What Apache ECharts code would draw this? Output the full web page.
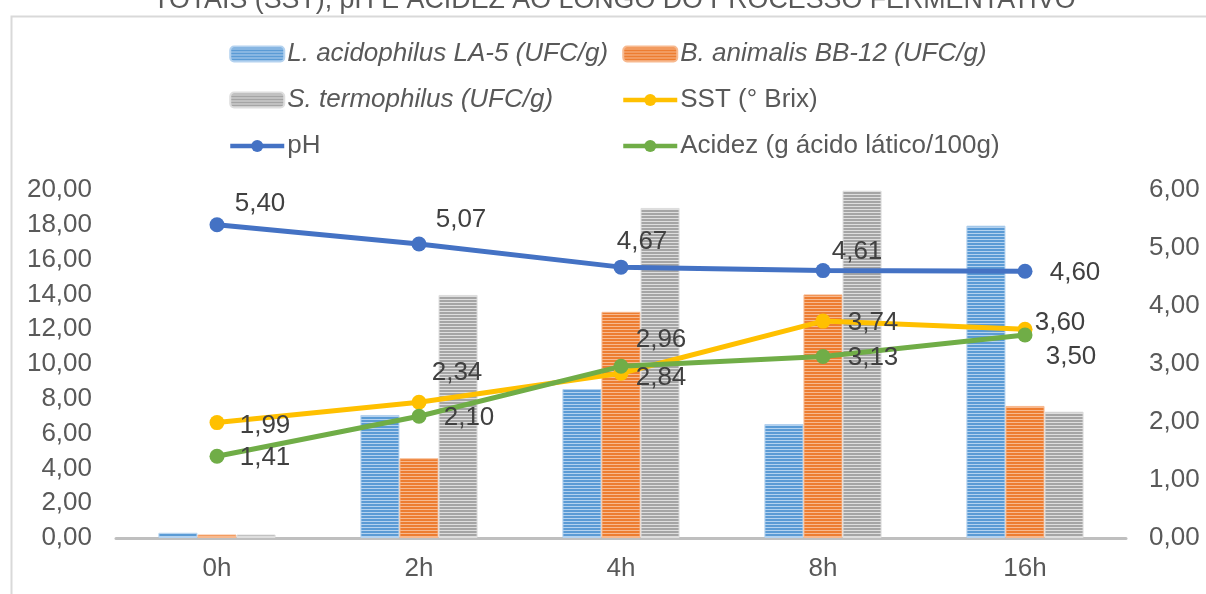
<!DOCTYPE html>
<html>
<head>
<meta charset="utf-8">
<script src="https://cdn.jsdelivr.net/npm/echarts@6/dist/echarts.min.js"></script>
<style>
  html, body { margin: 0; padding: 0; background: #ffffff; }
  #chart { width: 1206px; height: 594px; }
</style>
</head>
<body>
<div id="chart"></div>
<script>
// Sampling times
const categories = ['0h', '2h', '4h', '8h', '16h'];

// Microbial counts (UFC/g), left axis
const laAcidophilus = [0.30, 7.07, 8.56, 6.55, 17.95];
const bbAnimalis    = [0.20, 4.58, 13.00, 14.00, 7.59];
const sTermophilus  = [0.20, 13.97, 18.97, 19.96, 7.26];

// Physico-chemical parameters, right axis
const ph     = [5.40, 5.07, 4.67, 4.61, 4.60];
const sst    = [1.99, 2.34, 2.84, 3.74, 3.60];
const acidez = [1.41, 2.10, 2.96, 3.13, 3.50];

// Axis ticks
const leftTicks  = { min: 0, max: 20, interval: 2 };
const rightTicks = { min: 0, max: 6, interval: 1 };

// Label placement relative to each point (px)
const phLabelOffsets     = [[43, -21], [42, -24], [21, -25], [34, -19], [50, 2]];
const sstLabelOffsets    = [[48, 3], [38, -29], [40, 5], [50, 2], [35, -6]];
const acidezLabelOffsets = [[48, 2], [50, 2], [40, -26], [50, 1], [46, 22]];

const FONT = '"Liberation Sans", Arial, sans-serif';
const fmt = v => Number(v).toFixed(2).replace('.', ',');

// Horizontal-stripe fill used by the bars
function stripes(base, light) {
  const c = document.createElement('canvas');
  c.width = 4; c.height = 3;
  const g = c.getContext('2d');
  g.fillStyle = base;  g.fillRect(0, 0, 4, 2);
  g.fillStyle = light; g.fillRect(0, 2, 4, 1);
  return { image: c, repeat: 'repeat' };
}

const names = {
  la: 'L. acidophilus LA-5 (UFC/g)',
  bb: 'B. animalis BB-12 (UFC/g)',
  st: 'S. termophilus (UFC/g)',
  sst: 'SST (° Brix)',
  ph: 'pH',
  ac: 'Acidez (g ácido lático/100g)'
};
const italicNames = [names.la, names.bb, names.st];

function barSeries(name, values, base, light) {
  return {
    name, type: 'bar', yAxisIndex: 0, data: values,
    barGap: '0%', barCategoryGap: '42%',
    itemStyle: { color: stripes(base, light), borderColor: light, borderWidth: 1 }
  };
}

function lineSeries(name, values, offsets, color) {
  return {
    name, type: 'line', yAxisIndex: 1,
    symbol: 'circle', symbolSize: 15,
    lineStyle: { width: 5, color },
    itemStyle: { color },
    data: values.map((v, i) => ({ value: v, label: { offset: offsets[i] } })),
    label: {
      show: true, position: 'inside', formatter: p => fmt(p.value),
      fontFamily: FONT, fontSize: 26, color: '#404040'
    },
    z: 5
  };
}

const legendBase = {
  orient: 'vertical', top: 41, padding: 0, itemGap: 20,
  itemWidth: 54, itemHeight: 15,
  lineStyle: { width: 4.5 },
  textStyle: {
    fontFamily: FONT, fontSize: 26, color: '#595959', padding: [0, 0, 0, -2],
    rich: {
      i: { fontFamily: FONT, fontSize: 26, color: '#595959', fontStyle: 'italic' },
      n: { fontFamily: FONT, fontSize: 26, color: '#595959' }
    }
  },
  formatter: n => italicNames.includes(n) ? '{i|' + n + '}' : '{n|' + n + '}'
};

const chart = echarts.init(document.getElementById('chart'), null, { renderer: 'canvas' });
chart.setOption({
  animation: false,
  backgroundColor: '#ffffff',
  title: {
    text: 'TOTAIS (SST), pH E ACIDEZ AO LONGO DO PROCESSO FERMENTATIVO',
    left: 153, top: -13, padding: 0,
    textStyle: { fontFamily: FONT, fontSize: 26.8, fontWeight: 'normal', color: '#595959' }
  },
  graphic: [{
    type: 'rect', left: 9, top: 14, silent: true,
    shape: { width: 1300, height: 700 },
    style: { fill: 'none', stroke: '#d9d9d9', lineWidth: 2 }
  }],
  legend: [
    Object.assign({}, legendBase, { left: 228, data: [names.la, names.st, names.ph] }),
    Object.assign({}, legendBase, { left: 621, data: [names.bb, names.sst, names.ac] })
  ],
  grid: { left: 116, right: 80, top: 190, bottom: 56, containLabel: false },
  xAxis: {
    type: 'category', data: categories,
    axisLine: { show: true, lineStyle: { color: '#bfbfbf', width: 3 } },
    axisTick: { show: false },
    axisLabel: { fontFamily: FONT, fontSize: 26, color: '#595959', margin: 18 }
  },
  yAxis: [
    {
      type: 'value', position: 'left', min: leftTicks.min, max: leftTicks.max, interval: leftTicks.interval,
      axisLine: { show: false }, axisTick: { show: false }, splitLine: { show: false },
      axisLabel: { fontFamily: FONT, fontSize: 26, color: '#595959', margin: 24, formatter: fmt }
    },
    {
      type: 'value', position: 'right', min: rightTicks.min, max: rightTicks.max, interval: rightTicks.interval,
      axisLine: { show: false }, axisTick: { show: false }, splitLine: { show: false },
      axisLabel: { fontFamily: FONT, fontSize: 26, color: '#595959', margin: 23, formatter: fmt }
    }
  ],
  series: [
    barSeries(names.la, laAcidophilus, '#5b9bd5', '#b4d2ef'),
    barSeries(names.bb, bbAnimalis, '#ed7d31', '#f7b98f'),
    barSeries(names.st, sTermophilus, '#a5a5a5', '#dedede'),
    lineSeries(names.sst, sst, sstLabelOffsets, '#ffc000'),
    lineSeries(names.ph, ph, phLabelOffsets, '#4472c4'),
    lineSeries(names.ac, acidez, acidezLabelOffsets, '#70ad47')
  ]
});
</script>
</body>
</html>
